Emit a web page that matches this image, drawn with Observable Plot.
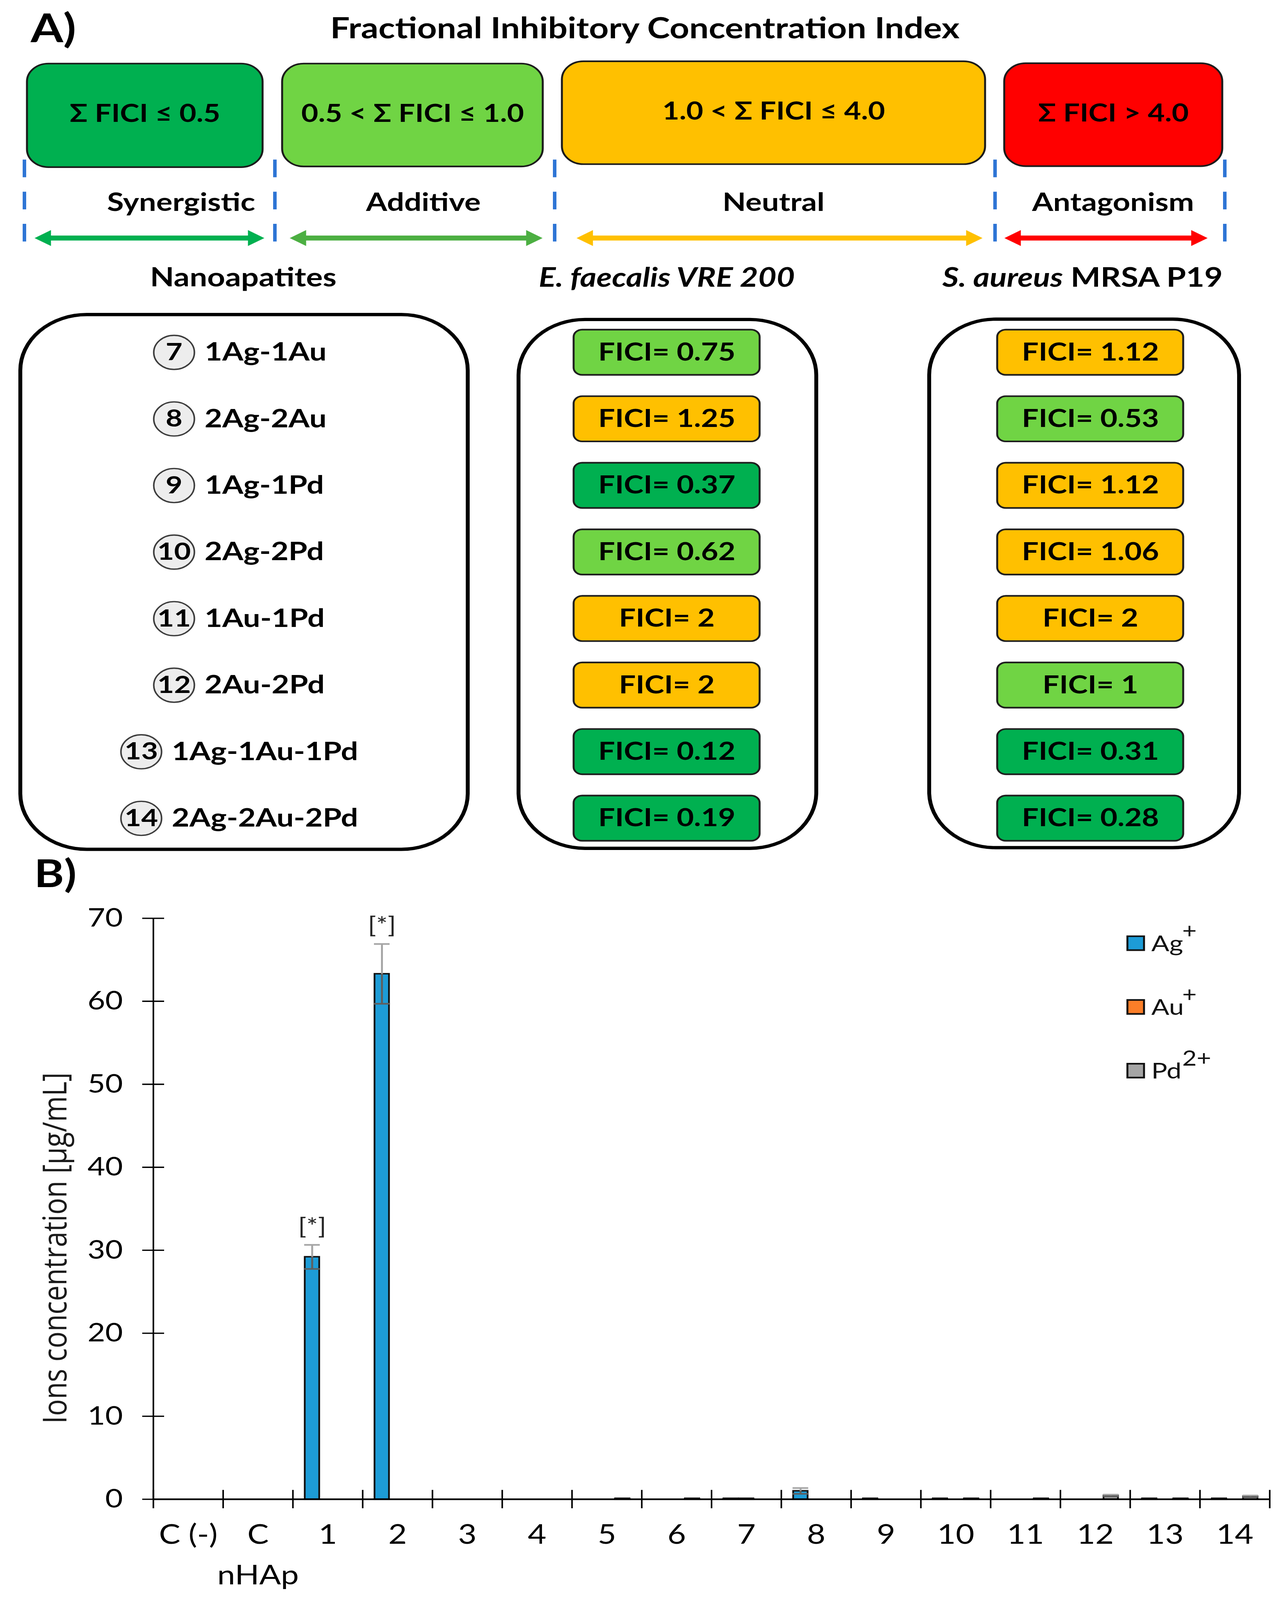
<!DOCTYPE html>
<html><head><meta charset="utf-8">
<script src="https://cdn.jsdelivr.net/npm/d3@7"></script>
<script src="https://cdn.jsdelivr.net/npm/@observablehq/plot@0.6"></script>
<style>
html,body{margin:0;padding:0;background:#fff;overflow:hidden;}
#fig{position:relative;width:3286px;height:4883px;background:#fff;overflow:hidden;transform-origin:0 0;}
#fig svg{position:absolute;left:0;}
</style></head><body><div id="fig"></div>
<script>
// ---------------- DATA ----------------
const ficiClasses = ["Synergistic", "Additive", "Neutral", "Antagonism"];
const ficiRanges = ["Σ FICI ≤ 0.5", "0.5 < Σ FICI ≤ 1.0", "1.0 < Σ FICI ≤ 4.0", "Σ FICI > 4.0"];
const ficiLimits = [0.5, 1.0, 4.0, Infinity];
const columnTitles = ["Nanoapatites", "E. faecalis VRE 200", "S. aureus MRSA P19"];
const nanoIds = [7, 8, 9, 10, 11, 12, 13, 14];
const nanoNames = ["1Ag-1Au", "2Ag-2Au", "1Ag-1Pd", "2Ag-2Pd", "1Au-1Pd", "2Au-2Pd", "1Ag-1Au-1Pd", "2Ag-2Au-2Pd"];
const ficiEfaecalis = [0.75, 1.25, 0.37, 0.62, 2, 2, 0.12, 0.19];
const ficiSaureus = [1.12, 0.53, 1.12, 1.06, 2, 1, 0.31, 0.28];

const sampleLabels = ["C (-)", "C", "1", "2", "3", "4", "5", "6", "7", "8", "9", "10", "11", "12", "13", "14"];
const ions = ["Ag", "Au", "Pd"];
const ionCharges = ["+", "+", "2+"];
const agValues = [null, null, 29.2, 63.3, null, null, null, null, 0.1, 1.0, 0.1, 0.1, null, null, 0.1, 0.1];
const auValues = [null, null, null, null, null, null, null, null, 0.1, null, null, null, null, null, null, null];
const pdValues = [null, null, null, null, null, null, 0.1, 0.1, null, null, null, 0.1, 0.1, 0.45, 0.1, 0.35];
const agErrors = [null, null, 1.45, 3.6, null, null, null, null, null, 0.35, null, null, null, null, null, null];
const auErrors = [null, null, null, null, null, null, null, null, null, null, null, null, null, null, null, null];
const pdErrors = [null, null, null, null, null, null, null, null, null, null, null, null, null, 0.1, null, 0.1];
const significance = [null, null, "[*]", "[*]", null, null, null, null, null, null, null, null, null, null, null, null];
const yTicks = [0, 10, 20, 30, 40, 50, 60, 70];
const xSubLabel = "nHAp";
const yLabel = "Ions concentration [µg/mL]";

// ---------------- STYLE / LAYOUT ----------------
const W = 3286, H = 4883, HA = 2760, TB = 2640, HB = H - TB;
const FN = "Lato, 'Open Sans', sans-serif";
const FW = "'Open Sans', 'DejaVu Sans', sans-serif";
const ficiColors = ["#00B050", "#70D444", "#FFC000", "#FF0000"];
const arrowColors = ["#00B050", "#4CAF42", "#FFC000", "#FF0000"];
const ionColors = ["#1D9CD7", "#FB7E28", "#A5A5A5"];

const L = {
  edges: [62, 703, 1419, 2546, 3134],
  boxes: [[69, 672, 194, 510], [722, 1389, 194, 508], [1438, 2521, 187, 501], [2570, 3128, 193, 507]],
  labelX: [463, 1083, 1979, 2848],
  arrows: [[88, 676], [741, 1388], [1475, 2514], [2570, 3090]],
  colX: [622, 1706, 2770],
  containers: [[52, 1197, 960, 2592], [1327, 2089, 975, 2589], [2378, 3171, 974, 2587]],
  cellHalfW: 238, cellHalfH: 69
};
const rowY = d3.scalePoint(nanoIds, [1075, 2497]);
const classify = v => ficiClasses[ficiLimits.findIndex(t => v <= t)];

// ---------------- PANEL A ----------------
const header = ficiClasses.map((c, i) => ({
  cls: c, range: ficiRanges[i],
  x1: L.boxes[i][0], x2: L.boxes[i][1], y1: L.boxes[i][2], y2: L.boxes[i][3],
  lx: L.labelX[i], ax1: L.arrows[i][0], ax2: L.arrows[i][1]
}));
const rows = nanoIds.map((id, i) => {
  const start = 670 - 21 * nanoNames[i].length;
  return {id, name: nanoNames[i], y: rowY(id), tx: start, cx: start - 78};
});
const cells = [];
[ficiEfaecalis, ficiSaureus].forEach((vals, k) => vals.forEach((v, i) => cells.push({
  v, cls: classify(v), cx: L.colX[k + 1] + (k === 1 ? 20 : 0), y: rowY(nanoIds[i]), label: "FICI= " + v
})));
const containers = L.containers.map(c => ({x1: c[0], x2: c[1], y1: c[2], y2: c[3]}));

const arrowMarks = header.map((h, i) => [
  Plot.link([h], {x1: d => d.ax1 + 20, x2: d => d.ax2 - 20, y1: 726, y2: 726, stroke: arrowColors[i], strokeWidth: 15}),
  Plot.dot([h], {x: d => d.ax1 + 28, y: 726, symbol: "triangle", r: 18, rotate: -90, fill: arrowColors[i], stroke: "none"}),
  Plot.dot([h], {x: d => d.ax2 - 28, y: 726, symbol: "triangle", r: 18, rotate: 90, fill: arrowColors[i], stroke: "none"})
]);

const plotA = Plot.plot({
  width: W, height: HA, margin: 0,
  x: {domain: [0, W], range: [0, W], axis: null},
  y: {domain: [0, HA], range: [0, HA], axis: null},
  color: {domain: ficiClasses, range: ficiColors},
  style: {fontFamily: FN, background: "transparent", color: "#000"},
  marks: [
    Plot.text(["A)"], {x: 78, y: 90, textAnchor: "start", fontSize: 120, fontWeight: "bold", fill: "#000"}),
    Plot.text(["Fractional Inhibitory Concentration Index"], {x: 1650, y: 88, fontSize: 88, fontWeight: "bold", fill: "#000"}),
    Plot.rect(header, {x1: "x1", x2: "x2", y1: "y1", y2: "y2", fill: "cls", stroke: "#1b1b1b", strokeWidth: 5, rx: 55}),
    Plot.text(header, {x: d => (d.x1 + d.x2) / 2, y: d => (d.y1 + d.y2) / 2 - 4, text: "range", fontSize: 75, fontWeight: "bold", fill: "#000"}),
    Plot.ruleX(L.edges, {x: d => d, y1: 487, y2: 738, stroke: "#2E75D5", strokeWidth: 9, strokeDasharray: "54 44"}),
    Plot.text(header, {x: "lx", y: 618, text: "cls", fontSize: 78, fontWeight: "bold", fill: "#000"}),
    ...arrowMarks,
    Plot.text(columnTitles, {x: (d, i) => L.colX[i], y: 848, text: d => d, fontSize: (d, i) => i === 0 ? 80 : 81, fontWeight: "bold", fill: "#000"}),
    Plot.rect(containers, {x1: "x1", x2: "x2", y1: "y1", y2: "y2", fill: "none", stroke: "#000", strokeWidth: 10, rx: 170}),
    Plot.dot(rows, {x: "cx", y: "y", r: 52, fill: "#EDEDED", stroke: "#3c3c3c", strokeWidth: 4}),
    Plot.text(rows, {x: "cx", y: "y", text: d => String(d.id), fontSize: 74, fontWeight: "bold", fill: "#000"}),
    Plot.text(rows, {x: "tx", y: "y", text: "name", textAnchor: "start", fontSize: 78, fontWeight: "bold", fill: "#000"}),
    Plot.rect(cells, {x1: d => d.cx - L.cellHalfW, x2: d => d.cx + L.cellHalfW, y1: d => d.y - L.cellHalfH, y2: d => d.y + L.cellHalfH,
      fill: "cls", stroke: "#1e1e1e", strokeWidth: 5, rx: 22}),
    Plot.text(cells, {x: "cx", y: "y", text: "label", fontSize: 76, fontWeight: "bold", fill: "#000"}),
    Plot.text(["B)"], {x: 87, y: 2670, textAnchor: "start", fontSize: 116, fontWeight: "bold", fill: "#000"})
  ]
});
plotA.style.top = "0px";
const NS = "http://www.w3.org/2000/svg";
plotA.querySelectorAll("text").forEach(t => {
  if (t.textContent === columnTitles[1]) t.setAttribute("font-style", "italic");
  if (t.textContent === columnTitles[2]) {
    t.textContent = "";
    const a = document.createElementNS(NS, "tspan"); a.setAttribute("font-style", "italic"); a.textContent = "S. aureus";
    const b = document.createElementNS(NS, "tspan"); b.textContent = " MRSA P19";
    t.append(a, b);
  }
});
const fig = document.getElementById("fig");
fig.append(plotA);

// ---------------- PANEL B ----------------
const mL = 392, mR = 37, mT = 2802 - TB, mB = H - 4575;
const bw = (W - mL - mR) / sampleLabels.length;
const barW = 37, barStep = 40, capW = 40;
const pxPerUnit = (HB - mT - mB) / 70;
const tickHalf = 28 / pxPerUnit;
const centerOf = i => bw / 2 + (i - 1) * barStep;
const valueSets = [agValues, auValues, pdValues];
const errorSets = [agErrors, auErrors, pdErrors];
const barData = ions.map((ion, i) => sampleLabels.map((s, j) => ({sample: s, ion, value: valueSets[i][j], err: errorSets[i][j], sig: i === 0 ? significance[j] : null}))
  .filter(d => d.value != null));

const barMarks = ions.map((ion, i) => {
  const c = centerOf(i);
  const errs = barData[i].filter(d => d.err != null);
  return [
    Plot.barY(barData[i], {x: "sample", y: "value", fill: "ion", stroke: "#111", strokeWidth: 4.5,
      insetLeft: c - barW / 2, insetRight: bw - c - barW / 2}),
    Plot.ruleX(errs, {x: "sample", y1: "value", y2: d => d.value + d.err, dx: c - bw / 2, stroke: "#A6A6A6", strokeWidth: 5}),
    Plot.ruleX(errs, {x: "sample", y1: d => d.value - d.err, y2: "value", dx: c - bw / 2, stroke: "#5f5f5f", strokeWidth: 5}),
    Plot.tickY(errs, {x: "sample", y: d => d.value + d.err, stroke: "#A6A6A6", strokeWidth: 5, insetLeft: c - capW / 2, insetRight: bw - c - capW / 2}),
    Plot.tickY(errs, {x: "sample", y: d => d.value - d.err, stroke: "#5f5f5f", strokeWidth: 5, insetLeft: c - capW / 2, insetRight: bw - c - capW / 2}),
    Plot.text(errs.filter(d => d.sig), {x: "sample", y: d => d.value + d.err, dx: c - bw / 2, dy: -55, text: "sig", fontSize: 70, fill: "#262626"})
  ];
});

const legendMarks = ions.map((ion, i) => [
  Plot.dot([ion], {frameAnchor: "top-right", dx: -343, dy: 76 + i * 194.5, symbol: "square", r: 24, fill: d => d, stroke: "#111", strokeWidth: 5}),
  Plot.text([ion], {frameAnchor: "top-right", dx: -303, dy: 78 + i * 194.5, text: d => d, textAnchor: "start", lineAnchor: "middle", fontSize: 68, fill: "#111"}),
  Plot.text([ionCharges[i]], {frameAnchor: "top-right", dx: -224, dy: 78 + i * 194.5 - 38, text: d => d, textAnchor: "start", lineAnchor: "middle", fontSize: 64, fill: "#111"})
]);

const plotB = Plot.plot({
  width: W, height: HB, marginLeft: mL, marginRight: mR, marginTop: mT, marginBottom: mB,
  x: {type: "band", domain: sampleLabels, padding: 0, round: false, axis: null},
  y: {domain: [0, 70], axis: null},
  color: {domain: ions, range: ionColors},
  style: {fontFamily: FN, background: "transparent", color: "#000"},
  marks: [
    ...barMarks,
    Plot.ruleY([0], {stroke: "#000", strokeWidth: 5}),
    Plot.ruleX([sampleLabels[0]], {x: d => d, dx: -bw / 2, y1: 0, y2: 70, stroke: "#000", strokeWidth: 4}),
    Plot.ruleY(yTicks, {y: d => d, x1: () => sampleLabels[0], x2: () => sampleLabels[0], insetLeft: -28, insetRight: bw - 28, stroke: "#000", strokeWidth: 4}),
    Plot.ruleX(sampleLabels, {x: d => d, dx: -bw / 2, y1: () => -tickHalf, y2: () => tickHalf, stroke: "#000", strokeWidth: 4}),
    Plot.ruleX(sampleLabels.slice(-1), {x: d => d, dx: bw / 2, y1: () => -tickHalf, y2: () => tickHalf, stroke: "#000", strokeWidth: 4}),
    Plot.text(yTicks, {y: d => d, frameAnchor: "left", dx: -78, text: d => String(d), textAnchor: "end", lineAnchor: "middle", fontSize: 78, fill: "#000"}),
    Plot.text(sampleLabels, {x: d => d, frameAnchor: "bottom", dy: 109, text: d => d, textAnchor: "middle", lineAnchor: "middle", fontSize: 82, fill: "#000"}),
    Plot.text([xSubLabel], {x: () => sampleLabels[1], frameAnchor: "bottom", dy: 233, text: d => d, textAnchor: "middle", lineAnchor: "middle", fontSize: 82, fill: "#000"}),
    Plot.text([yLabel], {frameAnchor: "left", dx: -250, dy: 120, rotate: -90, text: d => d, textAnchor: "middle", lineAnchor: "middle", fontSize: 85, fontFamily: FW, fill: "#1a1a1a"}),
    ...legendMarks
  ]
});
plotB.style.top = TB + "px";
fig.append(plotB);

// The photographing window may be shorter than the figure: fit the whole figure into it.
const viewH = window.innerHeight || H;
if (viewH < H) fig.style.transform = `scale(1, ${viewH / H})`;
</script></body></html>
